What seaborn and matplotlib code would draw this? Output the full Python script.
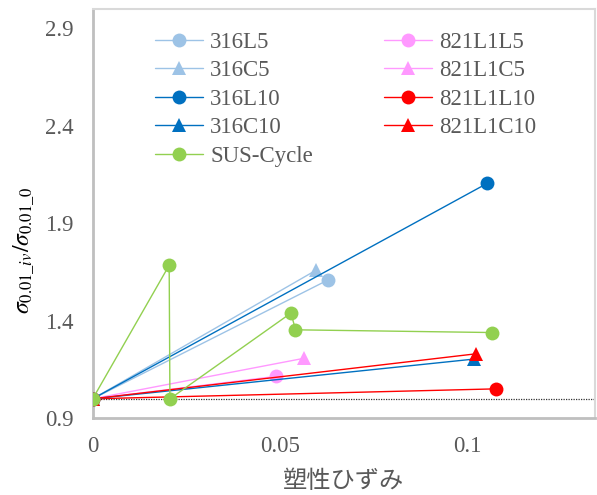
import matplotlib
matplotlib.use("Agg")
import matplotlib.pyplot as plt
import seaborn as sns
from matplotlib.lines import Line2D

# ---- data ----
x_316L5 = [0.0, 0.0627];   y_316L5 = [1.0, 1.609]
x_316C5 = [0.0, 0.0596];   y_316C5 = [1.0, 1.660]
x_316L10 = [0.0, 0.1052];  y_316L10 = [1.0, 2.105]
x_316C10 = [0.0, 0.1018];  y_316C10 = [1.0, 1.204]
x_821L1L5 = [0.0, 0.0489]; y_821L1L5 = [1.0, 1.115]
x_821L1C5 = [0.0, 0.0564]; y_821L1C5 = [1.0, 1.208]
x_821L1L10 = [0.0, 0.1075]; y_821L1L10 = [1.0, 1.051]
x_821L1C10 = [0.0, 0.1023]; y_821L1C10 = [1.0, 1.231]
x_sus = [0.0, 0.0204, 0.0206, 0.0529, 0.0541, 0.1065]
y_sus = [1.0, 1.685, 1.0, 1.440, 1.354, 1.340]

x_ticks = [0, 0.05, 0.1]
x_ticklabels = ["0", "0.05", "0.1"]
y_ticks = [0.9, 1.4, 1.9, 2.4, 2.9]
y_ticklabels = ["0.9", "1.4", "1.9", "2.4", "2.9"]

SERIF = "Liberation Serif"
sns.set_theme(style="white")
plt.rcParams["font.family"] = SERIF
plt.rcParams["mathtext.fontset"] = "stix"

fig = plt.figure(figsize=(5.97, 4.95), dpi=100)
ax = fig.add_axes([92.7 / 597, 1 - 418.3 / 495, (595 - 92.7) / 597, (418.3 - 9) / 495])

LB = "#9DC3E6"; DB = "#0070C0"; PK = "#FF99FF"; RD = "#FF0000"; GR = "#92D050"
ms = 10
lw = 1.0

series = [
    ("316L5", x_316L5, y_316L5, LB, "o"),
    ("821L1L5", x_821L1L5, y_821L1L5, PK, "o"),
    ("316C5", x_316C5, y_316C5, LB, "^"),
    ("821L1C5", x_821L1C5, y_821L1C5, PK, "^"),
    ("316L10", x_316L10, y_316L10, DB, "o"),
    ("821L1L10", x_821L1L10, y_821L1L10, RD, "o"),
    ("316C10", x_316C10, y_316C10, DB, "^"),
    ("821L1C10", x_821L1C10, y_821L1C10, RD, "^"),
    ("SUS-Cycle", x_sus, y_sus, GR, "o"),
]

ax.axhline(1.0, color="#333333", lw=0.9, ls=(0, (1, 1)), zorder=1)

handles = {}
for i, (name, xs, ys, c, m) in enumerate(series):
    sns.lineplot(x=xs, y=ys, ax=ax, color=c, marker=m, markersize=ms,
                 markeredgewidth=0, linewidth=lw, sort=False, estimator=None,
                 zorder=3 + i, legend=False)
    handles[name] = Line2D([], [], color=c, marker=m, markersize=ms,
                           markeredgewidth=0, linewidth=lw)

order = ["316L5", "316C5", "316L10", "316C10", "SUS-Cycle",
         "821L1L5", "821L1C5", "821L1L10", "821L1C10"]
leg = ax.legend([handles[k] for k in order], order, ncol=2, frameon=False,
                loc="upper left", bbox_to_anchor=(0.115, 0.955),
                prop={"family": SERIF, "size": 16.5},
                handlelength=2.1, handletextpad=0.3,
                columnspacing=3.1, labelspacing=0.32, labelcolor="#595959",
                borderaxespad=0, borderpad=0.2)

ax.set_xlim(0, 0.134)
ax.set_ylim(0.9, 3.0)
ax.set_xticks(x_ticks)
ax.set_xticklabels(x_ticklabels, family=SERIF)
ax.set_yticks(y_ticks)
ax.set_yticklabels(y_ticklabels, family=SERIF)
ax.tick_params(direction="in", length=5, width=1.2, color="#BFBFBF",
               labelcolor="#595959", labelsize=16.5)
ax.tick_params(axis="y", pad=14)
ax.tick_params(axis="x", pad=13)
for s in ax.spines.values():
    s.set_color("#D9D9D9")
    s.set_linewidth(1.5)
ax.spines["left"].set_color("#BFBFBF")
ax.spines["bottom"].set_color("#BFBFBF")
ax.spines["left"].set_linewidth(2)
ax.spines["bottom"].set_linewidth(2)

ax.set_xlabel("塑性ひずみ", fontsize=17.5, color="#595959",
              family=["Noto Sans CJK JP"], labelpad=8)
ax.set_ylabel(r"$\sigma_{0.01\_iv}/\sigma_{0.01\_0}$", fontsize=17, color="black")
ax.yaxis.set_label_coords(-0.111, 0.41)

fig.savefig("out.png", dpi=100)
